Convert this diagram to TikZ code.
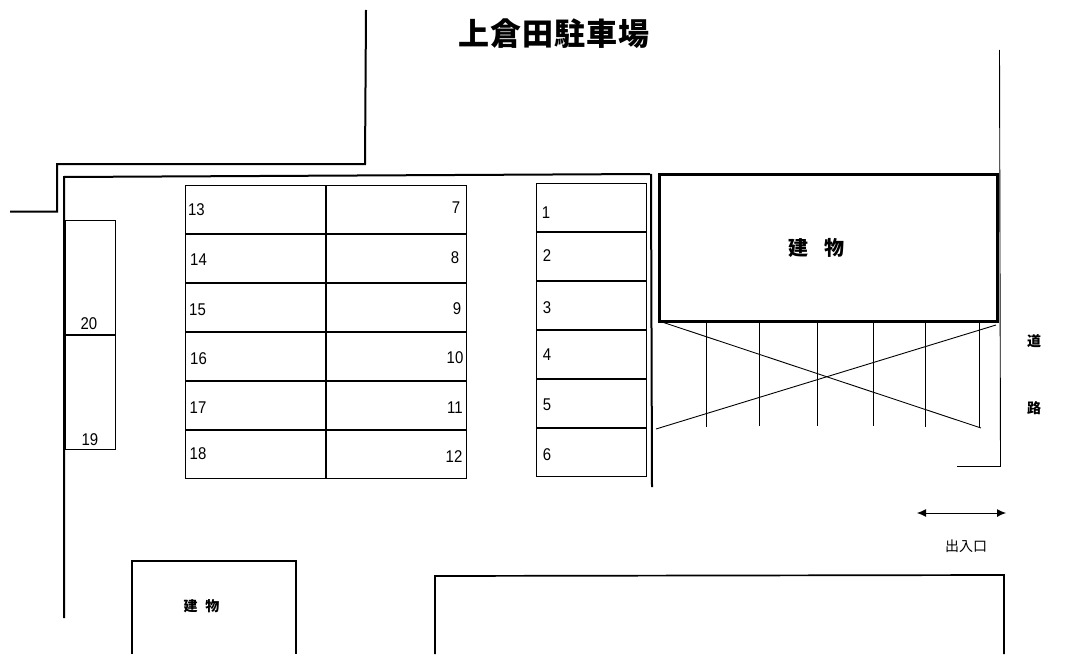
\documentclass[tikz,border=0pt]{standalone}
\usepackage{fontspec}
\setmainfont{Liberation Sans}
\newfontfamily\cjk{Noto Sans CJK JP}
\newfontfamily\numf[FakeStretch=0.88]{Liberation Sans}
\usetikzlibrary{arrows.meta}
\tikzset{
  thin line/.style={draw=black,line width=0.9pt},
  mid line/.style={draw=black,line width=1.7pt},
  wall/.style={draw=black,line width=2pt,line cap=butt,line join=miter},
  num/.style={font=\numf\fontsize{17}{17}\selectfont,inner sep=0pt,text=black},
  jpb/.style={font=\cjk\bfseries\fontsize{14}{15}\selectfont,inner sep=0pt,text=black},
  jp/.style={font=\cjk\fontsize{14}{15}\selectfont,inner sep=0pt,text=black}
}
\begin{document}
\begin{tikzpicture}[x=1pt,y=-1pt]
\useasboundingbox (0,0) rectangle (1068,669);
% walls
\draw[wall] (10,211.5) -- (57,211.5) -- (57,164) -- (365,164) -- (366,10);
\draw[wall] (64,618) -- (64,177) -- (650,174);
\draw[wall] (651,174) -- (652,487);
% slots 19/20
\draw[thin line] (65,220) rectangle (115,449);
\draw[mid line] (65,335) -- (115,335);
% central grid
\draw[thin line] (185,185) rectangle (466,478);
\draw[mid line] (326,185) -- (326,478);
\foreach \y in {234,283,332,381,430} \draw[mid line] (185,\y) -- (466,\y);
% right column
\draw[thin line] (536,183) rectangle (646.5,476);
\foreach \y in {232,281,330,379,428} \draw[mid line] (536,\y) -- (646.5,\y);
% building
\draw[draw=black,line width=3pt] (659.5,174.5) rectangle (997.5,321.5);
% road
\draw[thin line] (999.5,50) -- (1000.5,466.5) -- (957,466.5);
% hatch
\draw[thin line] (662,322) -- (981,428);
\draw[thin line] (656,429) -- (996,325);
\foreach \x/\b in {706/427,759/426,817/426,873/426,925/427,979/428} \draw[thin line] (\x,322) -- (\x,\b);
% arrow
\draw[thin line,{Latex[length=9pt,width=8pt]}-{Latex[length=9pt,width=8pt]}] (917,513) -- (1006,513);
% bottom buildings
\draw[mid line] (132,654) -- (132,561) -- (296,561) -- (296,654);
\draw[mid line] (435,654) -- (435,576) -- (1004,575) -- (1004,654);
% title
\node[inner sep=0pt,font=\cjk\bfseries\fontsize{31}{34}\selectfont] (title) at (554,34) {上\hspace{1.2pt}倉\hspace{1.2pt}田\hspace{1.2pt}駐\hspace{1.2pt}車\hspace{1.2pt}場};
\node[font=\cjk\bfseries\fontsize{20}{22}\selectfont,inner sep=0pt] (b1) at (816.5,248) {建\hspace{0.8em}物};
\node[jpb] (b2) at (201.5,606.5) {建\hspace{0.55em}物};
\node[jpb] (r1) at (1034,341) {道};
\node[jpb] (r2) at (1034,408) {路};
\node[jp] (ent) at (966,546) {出入口};
% numbers
\foreach \n/\x/\y in {13/196.5/209.5,14/198.5/259.5,15/197.5/309.5,16/198.5/358.5,17/198/407.5,18/198/453.5,
 7/456/207.5,8/455/257.5,9/457/308.5,10/455/357.5,11/455/407.5,12/454/456.5,
 1/546/212.5,2/547/255.5,3/547/307.5,4/547/354.5,5/547/404.5,6/547/454.5,
 20/89/323.5,19/90/439.5}
  \node[num] (n\n) at (\x,\y) {\n};
\end{tikzpicture}
\end{document}
